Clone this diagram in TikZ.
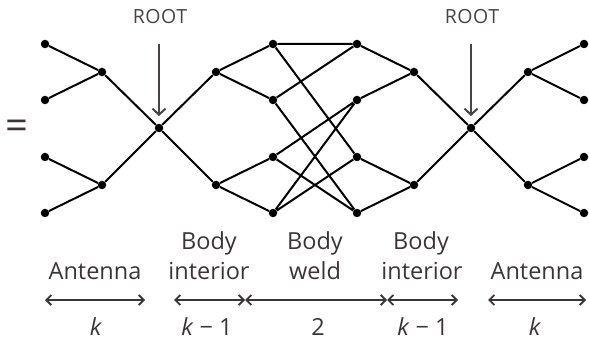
\documentclass[tikz,border=0pt]{standalone}
\usepackage{fontspec}
\setmainfont{Open Sans}
\usetikzlibrary{arrows.meta}
\definecolor{txtgray}{HTML}{3B3536}
\definecolor{rootgray}{HTML}{4A4343}
\begin{document}
\begin{tikzpicture}[x=1pt,y=-1pt,
  dot/.style={circle,fill=black,inner sep=0pt,minimum size=8.5pt},
  edge/.style={line width=2pt,black},
  lbl/.style={text=txtgray,font=\fontsize{23.5}{26}\selectfont,inner sep=0pt,anchor=base},
  rootlbl/.style={text=rootgray,font=\fontsize{19.5}{22}\selectfont\addfontfeatures{LetterSpace=3},inner sep=0pt},
  rootarrow/.style={line width=2pt,draw=rootgray,-{Straight Barb[length=6pt,width=13pt]}},
  dimarrow/.style={line width=1.9pt,draw=txtgray,{Straight Barb[length=5pt,width=10pt]}-{Straight Barb[length=5pt,width=10pt]}}
]
\useasboundingbox (0,0) rectangle (589,339);
% nodes
\node[dot] (a1) at (45,44) {};
\node[dot] (a2) at (45,100) {};
\node[dot] (a3) at (45,157) {};
\node[dot] (a4) at (45,213) {};
\node[dot] (b1) at (102,72) {};
\node[dot] (b2) at (102,185) {};
\node[dot] (r1) at (159,128) {};
\node[dot] (c1) at (216,72) {};
\node[dot] (c2) at (216,185) {};
\node[dot] (L1) at (273,44) {};
\node[dot] (L2) at (273,100) {};
\node[dot] (L3) at (273,157) {};
\node[dot] (L4) at (273,213) {};
\node[dot] (R1) at (357,44) {};
\node[dot] (R2) at (357,100) {};
\node[dot] (R3) at (357,157) {};
\node[dot] (R4) at (357,213) {};
\node[dot] (d1) at (414,72) {};
\node[dot] (d2) at (414,185) {};
\node[dot] (r2) at (471,128) {};
\node[dot] (e1) at (528,72) {};
\node[dot] (e2) at (528,185) {};
\node[dot] (f1) at (584,44) {};
\node[dot] (f2) at (584,100) {};
\node[dot] (f3) at (584,157) {};
\node[dot] (f4) at (584,213) {};
% edges
\draw[edge] (a1)--(b1) (a2)--(b1) (a3)--(b2) (a4)--(b2)
  (b1)--(r1) (b2)--(r1) (r1)--(c1) (r1)--(c2)
  (c1)--(L1) (c1)--(L2) (c2)--(L3) (c2)--(L4)
  (L1)--(R1) (L1)--(R3) (L2)--(R1) (L2)--(R4)
  (L3)--(R2) (L3)--(R4) (L4)--(R2) (L4)--(R3)
  (R1)--(d1) (R2)--(d1) (R3)--(d2) (R4)--(d2)
  (d1)--(r2) (d2)--(r2) (r2)--(e1) (r2)--(e2)
  (e1)--(f1) (e1)--(f2) (e2)--(f3) (e2)--(f4);
% equals sign
\node[text=txtgray,font=\fontsize{40}{42}\selectfont,inner sep=0pt] (eq) at (17,129.8) {=};
% ROOT labels and arrows
\node[rootlbl] (rt1) at (160,16.3) {ROOT};
\node[rootlbl] (rt2) at (472,16.3) {ROOT};
\coordinate (t1s) at (159,44);
\coordinate (t1e) at (159,116);
\coordinate (t2s) at (471,44);
\coordinate (t2e) at (471,116);
\draw[rootarrow] (t1s)--(t1e);
\draw[rootarrow] (t2s)--(t2e);
% bottom labels
\node[lbl] (la) at (95,279) {Antenna};
\node[lbl] (lb1) at (209,250) {Body};
\node[lbl] (lb2) at (209,279) {interior};
\node[lbl] (lc1) at (315,250) {Body};
\node[lbl] (lc2) at (315,279) {weld};
\node[lbl] (ld1) at (421,250) {Body};
\node[lbl] (ld2) at (422,279) {interior};
\node[lbl] (le) at (537,279) {Antenna};
% dimension arrows
\coordinate (p1) at (45,300);
\coordinate (p2) at (145,300);
\coordinate (p3) at (174,300);
\coordinate (p4) at (245,300);
\coordinate (p5) at (387,300);
\coordinate (p6) at (458,300);
\coordinate (p7) at (488,300);
\coordinate (p8) at (586,300);
\draw[dimarrow] (p1)--(p2);
\draw[dimarrow] (p3)--(p4);
\draw[dimarrow] (p4)--(p5);
\draw[dimarrow] (p5)--(p6);
\draw[dimarrow] (p7)--(p8);
% counts
\node[lbl] (ka) at (96,335) {\textit{k}};
\node[lbl] (kb) at (207,335) {\textit{k} − 1};
\node[lbl] (kc) at (318,335) {2};
\node[lbl] (kd) at (423,335) {\textit{k} − 1};
\node[lbl] (ke) at (535,335) {\textit{k}};
\end{tikzpicture}
\end{document}
